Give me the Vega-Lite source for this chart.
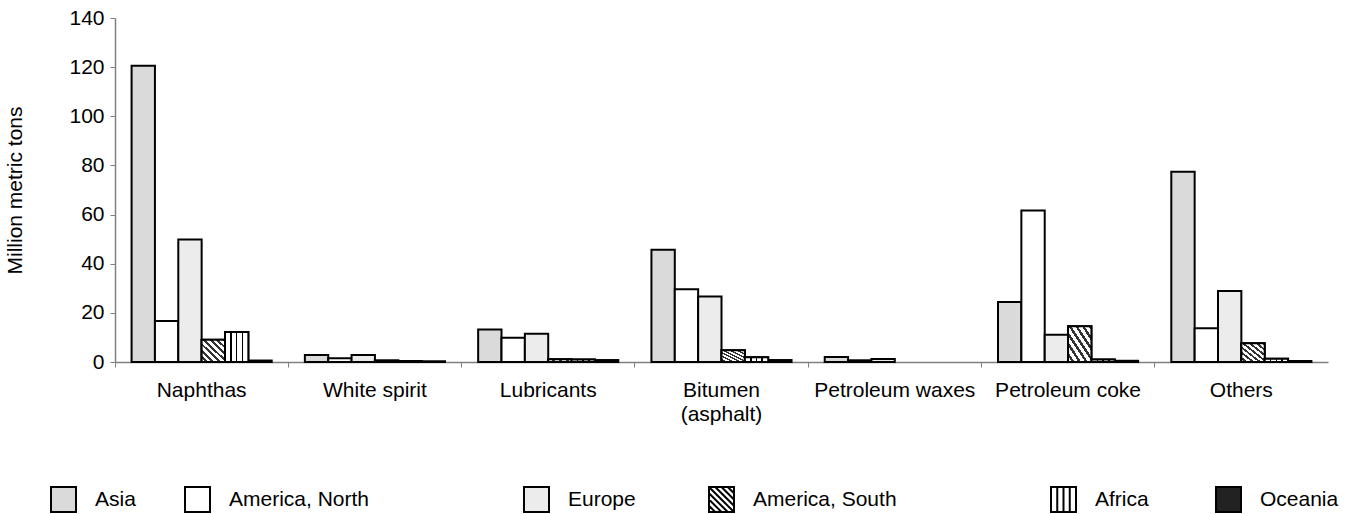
{
  "$schema": "https://vega.github.io/schema/vega-lite/v6.json",
  "autosize": {"type": "none"},
  "width": 1213,
  "height": 344,
  "padding": {"left": 115, "top": 18, "right": 19, "bottom": 152},
  "background": "white",
  "config": {
    "view": {"stroke": null},
    "font": "Liberation Sans",
    "axis": {"labelFont": "Liberation Sans", "titleFont": "Liberation Sans", "labelColor": "black", "titleColor": "black", "grid": false},
    "legend": {"labelFont": "Liberation Sans"}
  },
  "data": {
    "values": [
      {"product": "Naphthas", "region": "Asia", "value": 120.6},
      {"product": "Naphthas", "region": "America, North", "value": 16.7},
      {"product": "Naphthas", "region": "Europe", "value": 49.9},
      {"product": "Naphthas", "region": "America, South", "value": 9.1},
      {"product": "Naphthas", "region": "Africa", "value": 12.2},
      {"product": "Naphthas", "region": "Oceania", "value": 0.6},
      {"product": "White spirit", "region": "Asia", "value": 2.8},
      {"product": "White spirit", "region": "America, North", "value": 1.5},
      {"product": "White spirit", "region": "Europe", "value": 2.8},
      {"product": "White spirit", "region": "America, South", "value": 0.6},
      {"product": "White spirit", "region": "Africa", "value": 0.4},
      {"product": "White spirit", "region": "Oceania", "value": 0.3},
      {"product": "Lubricants", "region": "Asia", "value": 13.2},
      {"product": "Lubricants", "region": "America, North", "value": 9.9},
      {"product": "Lubricants", "region": "Europe", "value": 11.5},
      {"product": "Lubricants", "region": "America, South", "value": 1.1},
      {"product": "Lubricants", "region": "Africa", "value": 1.0},
      {"product": "Lubricants", "region": "Oceania", "value": 0.8},
      {"product": "Bitumen (asphalt)", "region": "Asia", "value": 45.7},
      {"product": "Bitumen (asphalt)", "region": "America, North", "value": 29.6},
      {"product": "Bitumen (asphalt)", "region": "Europe", "value": 26.7},
      {"product": "Bitumen (asphalt)", "region": "America, South", "value": 4.8},
      {"product": "Bitumen (asphalt)", "region": "Africa", "value": 1.9},
      {"product": "Bitumen (asphalt)", "region": "Oceania", "value": 0.8},
      {"product": "Petroleum waxes", "region": "Asia", "value": 2.0},
      {"product": "Petroleum waxes", "region": "America, North", "value": 0.7},
      {"product": "Petroleum waxes", "region": "Europe", "value": 1.2},
      {"product": "Petroleum coke", "region": "Asia", "value": 24.4},
      {"product": "Petroleum coke", "region": "America, North", "value": 61.7},
      {"product": "Petroleum coke", "region": "Europe", "value": 11.1},
      {"product": "Petroleum coke", "region": "America, South", "value": 14.5},
      {"product": "Petroleum coke", "region": "Africa", "value": 1.0},
      {"product": "Petroleum coke", "region": "Oceania", "value": 0.5},
      {"product": "Others", "region": "Asia", "value": 77.4},
      {"product": "Others", "region": "America, North", "value": 13.7},
      {"product": "Others", "region": "Europe", "value": 28.9},
      {"product": "Others", "region": "America, South", "value": 7.6},
      {"product": "Others", "region": "Africa", "value": 1.3},
      {"product": "Others", "region": "Oceania", "value": 0.4}
    ]
  },
  "encoding": {
    "x": {
      "field": "product",
      "type": "nominal",
      "sort": ["Naphthas", "White spirit", "Lubricants", "Bitumen (asphalt)", "Petroleum waxes", "Petroleum coke", "Others"],
      "scale": {"domain": ["Naphthas", "White spirit", "Lubricants", "Bitumen (asphalt)", "Petroleum waxes", "Petroleum coke", "Others"], "paddingInner": 0, "paddingOuter": 0},
      "axis": {
        "title": null,
        "labelAngle": 0,
        "labelFontSize": 21,
        "labelPadding": 12,
        "labelLineHeight": 24,
        "bandPosition": 0,
        "tickSize": 5,
        "tickColor": "#808080",
        "domainColor": "#808080",
        "domainWidth": 1.5,
        "labelExpr": "datum.value == 'Bitumen (asphalt)' ? ['Bitumen', '(asphalt)'] : datum.value"
      }
    },
    "xOffset": {
      "field": "region",
      "type": "nominal",
      "scale": {"domain": ["Asia", "America, North", "Europe", "America, South", "Africa", "Oceania"], "paddingInner": 0, "paddingOuter": 0.71}
    },
    "y": {
      "field": "value",
      "type": "quantitative",
      "scale": {"domain": [0, 140], "nice": false},
      "axis": {
        "title": "Million metric tons",
        "titleFontSize": 21,
        "titleFontWeight": "normal",
        "titleX": -90,
        "values": [0, 20, 40, 60, 80, 100, 120, 140],
        "labelFontSize": 21,
        "labelPadding": 6,
        "tickSize": 5,
        "tickColor": "#808080",
        "domainColor": "#808080",
        "domainWidth": 1.5
      }
    }
  },
  "layer": [
    {
      "mark": {"type": "bar", "stroke": "black", "strokeWidth": 2, "opacity": 1},
      "encoding": {
        "fill": {
          "field": "region",
          "type": "nominal",
          "scale": {
            "domain": ["Asia", "America, North", "Europe", "America, South", "Africa", "Oceania"],
            "range": ["#dadada", "#ffffff", "#ececec", "#ffffff", "#ffffff", "#222222"]
          },
          "legend": {
            "title": null,
            "orient": "none",
            "legendX": -65,
            "legendY": 468,
            "direction": "horizontal",
            "columns": 6,
            "gridAlign": "each",
            "columnPadding": 10,
            "padding": 0,
            "symbolSize": 625,
            "symbolStrokeColor": "black",
            "symbolStrokeWidth": 2,
            "symbolOpacity": 1,
            "labelFontSize": 21,
            "labelColor": "black",
            "labelOffset": 18,
            "labelLimit": 600,
            "labelExpr": "datum.label == 'Asia' ? 'Asia\u00a0\u00a0\u00a0\u00a0\u00a0\u00a0\u200b' : datum.label == 'America, North' ? 'America, North\u00a0\u00a0\u00a0\u00a0\u00a0\u00a0\u00a0\u00a0\u00a0\u00a0\u00a0\u00a0\u00a0\u00a0\u00a0\u00a0\u00a0\u00a0\u00a0\u00a0\u00a0\u00a0\u00a0\u00a0\u200b' : datum.label == 'Europe' ? 'Europe\u00a0\u00a0\u00a0\u00a0\u00a0\u00a0\u00a0\u00a0\u00a0\u00a0\u200b' : datum.label == 'America, South' ? 'America, South\u00a0\u00a0\u00a0\u00a0\u00a0\u00a0\u00a0\u00a0\u00a0\u00a0\u00a0\u00a0\u00a0\u00a0\u00a0\u00a0\u00a0\u00a0\u00a0\u00a0\u00a0\u00a0\u00a0\u00a0\u200b' : datum.label == 'Africa' ? 'Africa\u00a0\u00a0\u00a0\u00a0\u00a0\u00a0\u00a0\u00a0\u00a0\u200b' : datum.label",
            "encode": {
              "symbols": {
                "update": {
                  "stroke": {"value": "black"},
                  "strokeWidth": {"value": 2},
                  "opacity": {"value": 1}
                }
              }
            }
          }
        }
      }
    },
    {
      "transform": [{"filter": "datum.region == 'America, South'"}],
      "mark": {"type": "bar", "stroke": "black", "strokeWidth": 2, "opacity": 1,
        "fill": {"gradient": "linear", "x1": 0, "y1": 1, "x2": 1, "y2": 0, "stops": [
            {"offset": 0, "color": "#ffffff"}, {"offset": 0.08, "color": "#ffffff"}, {"offset": 0.08, "color": "#333333"}, {"offset": 0.1429, "color": "#333333"},
            {"offset": 0.1429, "color": "#ffffff"}, {"offset": 0.2229, "color": "#ffffff"}, {"offset": 0.2229, "color": "#333333"}, {"offset": 0.2857, "color": "#333333"},
            {"offset": 0.2857, "color": "#ffffff"}, {"offset": 0.3657, "color": "#ffffff"}, {"offset": 0.3657, "color": "#333333"}, {"offset": 0.4286, "color": "#333333"},
            {"offset": 0.4286, "color": "#ffffff"}, {"offset": 0.5086, "color": "#ffffff"}, {"offset": 0.5086, "color": "#333333"}, {"offset": 0.5714, "color": "#333333"},
            {"offset": 0.5714, "color": "#ffffff"}, {"offset": 0.6514, "color": "#ffffff"}, {"offset": 0.6514, "color": "#333333"}, {"offset": 0.7143, "color": "#333333"},
            {"offset": 0.7143, "color": "#ffffff"}, {"offset": 0.7943, "color": "#ffffff"}, {"offset": 0.7943, "color": "#333333"}, {"offset": 0.8571, "color": "#333333"},
            {"offset": 0.8571, "color": "#ffffff"}, {"offset": 0.9371, "color": "#ffffff"}, {"offset": 0.9371, "color": "#333333"}, {"offset": 1, "color": "#333333"}
          ]}
      }
    },
    {
      "transform": [{"filter": "datum.region == 'Africa'"}],
      "mark": {"type": "bar", "stroke": "black", "strokeWidth": 2, "opacity": 1,
        "fill": {"gradient": "linear", "x1": 0, "y1": 0, "x2": 1, "y2": 0, "stops": [
            {"offset": 0, "color": "#ffffff"}, {"offset": 0.22, "color": "#ffffff"}, {"offset": 0.22, "color": "#000000"}, {"offset": 0.29, "color": "#000000"},
            {"offset": 0.29, "color": "#ffffff"}, {"offset": 0.465, "color": "#ffffff"}, {"offset": 0.465, "color": "#000000"}, {"offset": 0.535, "color": "#000000"},
            {"offset": 0.535, "color": "#ffffff"}, {"offset": 0.71, "color": "#ffffff"}, {"offset": 0.71, "color": "#000000"}, {"offset": 0.78, "color": "#000000"},
            {"offset": 0.78, "color": "#ffffff"}, {"offset": 1, "color": "#ffffff"}
          ]}
      }
    },
    {
      "mark": {"type": "point", "filled": true, "size": 0, "strokeWidth": 0},
      "encoding": {
        "fill": {"field": "region", "type": "nominal"},
        "shape": {
          "field": "region",
          "type": "nominal",
          "scale": {
            "domain": ["Asia", "America, North", "Europe", "America, South", "Africa", "Oceania"],
            "range": [
              "square",
              "square",
              "square",
              "M-1,-1H1V1H-1Z M0.5,-1L1,-0.5 M0,-1L1,0 M-0.5,-1L1,0.5 M-1,-1L1,1 M-1,-0.5L0.5,1 M-1,0L0,1 M-1,0.5L-0.5,1",
              "M-1,-1H1V1H-1Z M-0.5,-1V1 M0,-1V1 M0.5,-1V1",
              "square"
            ]
          },
          "legend": {"title": null}
        }
      }
    }
  ]
}
